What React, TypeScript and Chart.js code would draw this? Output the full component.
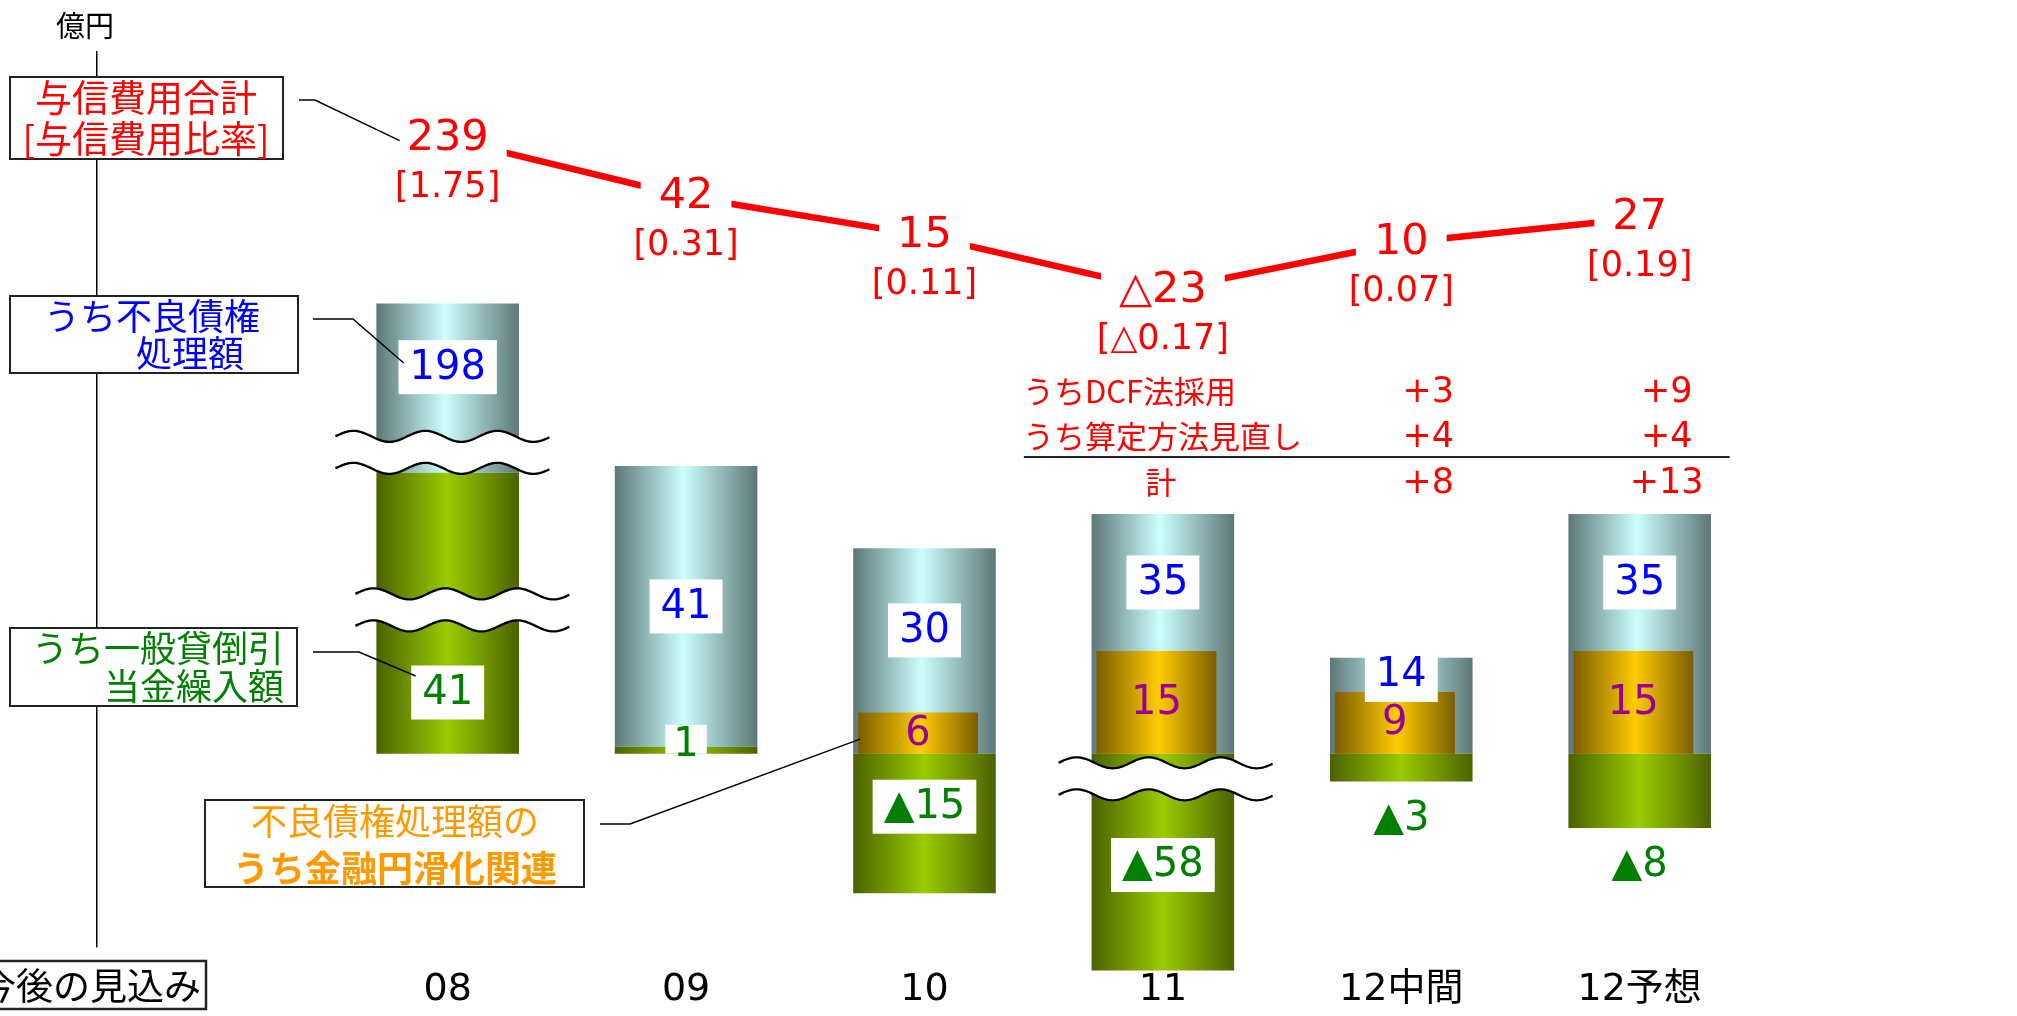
import React, { useEffect, useRef } from 'react';
import { Chart, registerables, LinearScale } from 'chart.js';

// ---------------- data ----------------
const CATEGORIES = ['08', '09', '10', '11', '12中間', '12予想'];
const TOTAL_CREDIT_COST = [239, 42, 15, -23, 10, 27]; // 与信費用合計 (億円)
const CREDIT_COST_RATIO = [1.75, 0.31, 0.11, -0.17, 0.07, 0.19]; // 与信費用比率
const NPL_DISPOSAL = [198, 41, 30, 35, 14, 35]; // うち不良債権処理額
const GENERAL_PROVISION = [41, 1, -15, -58, -3, -8]; // うち一般貸倒引当金繰入額
const FACILITATION_RELATED: (number | null)[] = [null, null, 6, 15, 9, 15]; // うち金融円滑化関連
const DCF_ADOPTION: (number | null)[] = [null, null, null, null, 3, 9]; // うちDCF法採用
const METHOD_REVIEW: (number | null)[] = [null, null, null, null, 4, 4]; // うち算定方法見直し
const REVIEW_TOTAL: (number | null)[] = [null, null, null, null, 8, 13]; // 計

// ---------------- styles ----------------
const LATIN = '"DejaVu Sans", "Noto Sans CJK JP", sans-serif';
const JP = '"Noto Sans CJK JP", "DejaVu Sans", sans-serif';
const f = (size: number, weight = 'normal', fam = LATIN) => `${weight} ${size}px ${fam}`;
const BLUE_STOPS: [number, string][] = [[0, '#5d7776'], [0.48, '#ccffff'], [1, '#5d7776']];
const GREEN_STOPS: [number, string][] = [[0, '#4a6200'], [0.5, '#99cc00'], [1, '#4a6200']];
const ORANGE_STOPS: [number, string][] = [[0, '#7c5d00'], [0.52, '#ffcc00'], [1, '#7c5d00']];
const RED = '#ff0000';
const BLUE_TXT = '#0000ff';
const GREEN_TXT = '#008000';
const PURPLE_TXT = '#990099';
const ORANGE_TXT = '#ff9900';

// decorative axis-break marks (category index, value on the bar axis, horizontal nudge)
const BREAK_MARKS = [
  { cat: 0, value: 44, dx: -5 },
  { cat: 0, value: 21, dx: 15 },
  { cat: 3, value: -2.7, dx: 3 },
];
const BREAK_GAP = 32;
const WAVE_AMP = 5.5;
const WAVE_PERIOD = 72;

// ---------------- piecewise (broken) linear scale ----------------
class BrokenScale extends LinearScale {
  static id = 'broken';
  static defaults = LinearScale.defaults;
  knotsArr(): number[] {
    return ((this.options as any).knots || []) as number[];
  }
  densArr(): number[] {
    return ((this.options as any).densities || [1]) as number[];
  }
  warp(v: number): number {
    const k = this.knotsArr();
    const d = this.densArr();
    if (!k.length) return v * d[0];
    if (v <= k[0]) return d[0] * (v - k[0]);
    let t = 0;
    for (let i = 0; i < k.length; i++) {
      const lo = k[i];
      const hi = i + 1 < k.length ? k[i + 1] : Infinity;
      const dd = d[i + 1];
      if (v <= hi) return t + dd * (v - lo);
      t += dd * (hi - lo);
    }
    return t;
  }
  unwarp(t: number): number {
    const k = this.knotsArr();
    const d = this.densArr();
    if (!k.length) return t / d[0];
    if (t <= 0) return k[0] + t / d[0];
    let acc = 0;
    for (let i = 0; i < k.length; i++) {
      const lo = k[i];
      const hi = i + 1 < k.length ? k[i + 1] : Infinity;
      const seg = d[i + 1] * (hi - lo);
      if (t <= acc + seg) return lo + (t - acc) / d[i + 1];
      acc += seg;
    }
    return k[k.length - 1];
  }
  getPixelForValue(value: any) {
    if (value === null || value === undefined || isNaN(value)) return NaN;
    const a = this.warp(this.min);
    const b = this.warp(this.max);
    return this.getPixelForDecimal((this.warp(value) - a) / (b - a));
  }
  getValueForPixel(pixel: number) {
    const a = this.warp(this.min);
    const b = this.warp(this.max);
    return this.unwarp(a + this.getDecimalForPixel(pixel) * (b - a));
  }
}

Chart.register(...registerables, BrokenScale as any);

// ---------------- drawing helpers ----------------
function text(ctx: CanvasRenderingContext2D, s: string, x: number, y: number, font: string, color: string, align: CanvasTextAlign = 'center') {
  ctx.font = font;
  ctx.fillStyle = color;
  ctx.textAlign = align;
  ctx.textBaseline = 'middle';
  ctx.fillText(s, x, y);
}

function framed(ctx: CanvasRenderingContext2D, x: number, y: number, w: number, h: number, lw = 2) {
  ctx.save();
  ctx.fillStyle = '#ffffff';
  ctx.fillRect(x, y, w, h);
  ctx.strokeStyle = '#222';
  ctx.lineWidth = lw;
  ctx.strokeRect(x, y, w, h);
  ctx.restore();
}

function leader(ctx: CanvasRenderingContext2D, pts: [number, number][]) {
  ctx.save();
  ctx.strokeStyle = '#000';
  ctx.lineWidth = 1.4;
  ctx.beginPath();
  pts.forEach(([x, y], i) => (i ? ctx.lineTo(x, y) : ctx.moveTo(x, y)));
  ctx.stroke();
  ctx.restore();
}

function valueLabel(ctx: CanvasRenderingContext2D, s: string, cx: number, cy: number, color: string, boxed: boolean) {
  ctx.font = f(40);
  const w = ctx.measureText(s).width;
  if (boxed) {
    ctx.fillStyle = '#fff';
    ctx.fillRect(cx - w / 2 - 11, cy - 27, w + 22, 54);
  }
  text(ctx, s, cx, cy + 1, f(40), color);
}

function drawBreak(ctx: CanvasRenderingContext2D, xl: number, xr: number, yc: number) {
  const wave = (x: number) => -WAVE_AMP * Math.sin((2 * Math.PI * (x - xl)) / WAVE_PERIOD);
  const up = yc - BREAK_GAP / 2;
  const lo = yc + BREAK_GAP / 2;
  ctx.save();
  ctx.beginPath();
  for (let x = xl; x <= xr; x += 2) ctx.lineTo(x, up + wave(x));
  for (let x = xr; x >= xl; x -= 2) ctx.lineTo(x, lo + wave(x));
  ctx.closePath();
  ctx.fillStyle = '#fff';
  ctx.fill();
  ctx.strokeStyle = '#000';
  ctx.lineWidth = 2.3;
  for (const base of [up, lo]) {
    ctx.beginPath();
    for (let x = xl; x <= xr; x += 2) ctx.lineTo(x, base + wave(x));
    ctx.stroke();
  }
  ctx.restore();
}

function visibleSegments(a: number, b: number, bands: [number, number][]) {
  let segs: [number, number][] = [[a, b]];
  for (const [t, u] of bands) {
    segs = segs.flatMap(([p, q]) => {
      const out: [number, number][] = [];
      if (t > p) out.push([p, Math.min(q, t)]);
      if (u < q) out.push([Math.max(p, u), q]);
      return out.filter((s) => s[1] > s[0]);
    });
  }
  let best = segs[0] || [a, b];
  segs.forEach((s) => {
    if (s[1] - s[0] > best[1] - best[0]) best = s;
  });
  return best;
}

const tri = (v: number, mark: string) => (v < 0 ? `${mark}${Math.abs(v)}` : `${v}`);

// ---------------- plugins ----------------
const gradientPlugin = {
  id: 'barGradients',
  beforeDatasetsDraw(chart: any) {
    const ctx = chart.ctx;
    chart.data.datasets.forEach((ds: any, di: number) => {
      if (!ds.gradientStops) return;
      chart.getDatasetMeta(di).data.forEach((el: any) => {
        if (!el || !el.options || !isFinite(el.x) || !isFinite(el.width)) return;
        const l = el.x - el.width / 2;
        const g = ctx.createLinearGradient(l, 0, l + el.width, 0);
        ds.gradientStops.forEach(([o, c]: [number, string]) => g.addColorStop(o, c));
        el.options.backgroundColor = g;
      });
    });
  },
};

const annotationPlugin = {
  id: 'annotations',
  afterDraw(chart: any) {
    const ctx: CanvasRenderingContext2D = chart.ctx;
    const xs = chart.scales.x;
    const ys = chart.scales.y;
    const lineEls = chart.getDatasetMeta(0).data;
    const orEls = chart.getDatasetMeta(1).data;
    const grEls = chart.getDatasetMeta(2).data;
    const blEls = chart.getDatasetMeta(3).data;

    // axis break marks
    const bands: Record<number, [number, number][]> = {};
    BREAK_MARKS.forEach((m) => {
      const el = blEls[m.cat];
      const yc = ys.getPixelForValue(m.value);
      drawBreak(ctx, el.x - el.width / 2 - 36 + m.dx, el.x + el.width / 2 + 36 + m.dx, yc);
      (bands[m.cat] = bands[m.cat] || []).push([yc - BREAK_GAP / 2 - WAVE_AMP, yc + BREAK_GAP / 2 + WAVE_AMP]);
    });

    // bar value labels
    CATEGORIES.forEach((_, i) => {
      const b = blEls[i];
      const g = grEls[i];
      const o = orEls[i];
      const bd = bands[i] || [];
      // 不良債権処理額
      const bBottom = FACILITATION_RELATED[i] != null ? o.y : b.base;
      const sb = visibleSegments(Math.min(b.y, bBottom), Math.max(b.y, bBottom), bd);
      valueLabel(ctx, `${NPL_DISPOSAL[i]}`, b.x, (sb[0] + sb[1]) / 2, BLUE_TXT, true);
      // 金融円滑化関連
      const fv = FACILITATION_RELATED[i];
      if (fv != null) valueLabel(ctx, `${fv}`, o.x, (o.y + o.base) / 2, PURPLE_TXT, false);
      // 一般貸倒引当金繰入額
      const gv = GENERAL_PROVISION[i];
      const top = Math.min(g.y, g.base);
      const bot = Math.max(g.y, g.base);
      const sg = visibleSegments(top, bot, bd);
      const len = sg[1] - sg[0];
      const label = tri(gv, '▲');
      if (len >= 100) {
        const cy = gv < 0 ? sg[0] + 0.38 * len : (sg[0] + sg[1]) / 2;
        valueLabel(ctx, label, g.x, cy, GREEN_TXT, true);
      } else if (gv < 0) {
        valueLabel(ctx, label, g.x, bot + 37, GREEN_TXT, false);
      } else {
        ctx.font = f(40);
        const w = ctx.measureText(label).width;
        ctx.fillStyle = '#fff';
        ctx.fillRect(g.x - w / 2 - 8, g.y - 22, w + 16, g.base - g.y + 22);
        text(ctx, label, g.x, g.base - 8, f(40), GREEN_TXT);
      }
    });

    // credit-cost line labels
    lineEls.forEach((p: any, i: number) => {
      const s = tri(TOTAL_CREDIT_COST[i], '△');
      ctx.font = f(43);
      const w = ctx.measureText(s).width;
      ctx.fillStyle = '#fff';
      ctx.fillRect(p.x - w / 2 - 18, p.y - 24, w + 36, 48);
      text(ctx, s, p.x, p.y, f(43), RED);
      const r = CREDIT_COST_RATIO[i];
      const rs = r < 0 ? `[△${Math.abs(r).toFixed(2)}]` : `[${r.toFixed(2)}]`;
      text(ctx, rs, p.x, p.y + 49, f(35), RED);
    });

    // DCF / method review breakdown table
    const x3 = xs.getPixelForValue(3);
    const x5 = xs.getPixelForValue(5);
    text(ctx, 'うちDCF法採用', x3 - 140, 391, f(31, 'normal', JP), RED, 'left');
    text(ctx, 'うち算定方法見直し', x3 - 140, 436, f(31, 'normal', JP), RED, 'left');
    text(ctx, '計', x3 - 2, 482, f(31, 'normal', JP), RED);
    ctx.save();
    ctx.strokeStyle = '#222';
    ctx.lineWidth = 2;
    ctx.beginPath();
    ctx.moveTo(x3 - 139, 457);
    ctx.lineTo(x5 + 90, 457);
    ctx.stroke();
    ctx.restore();
    CATEGORIES.forEach((_, i) => {
      const cx = xs.getPixelForValue(i) + 27;
      if (DCF_ADOPTION[i] != null) text(ctx, `+${DCF_ADOPTION[i]}`, cx, 393, f(35), RED);
      if (METHOD_REVIEW[i] != null) text(ctx, `+${METHOD_REVIEW[i]}`, cx, 438, f(35), RED);
      if (REVIEW_TOTAL[i] != null) text(ctx, `+${REVIEW_TOTAL[i]}`, cx, 484, f(35), RED);
    });

    // unit
    text(ctx, '億円', 85, 26, f(29, 'normal', JP), '#000');

    // legend callout boxes
    framed(ctx, 10, 77, 273, 82);
    text(ctx, '与信費用合計', 146, 98, f(37, 'normal', JP), RED);
    text(ctx, '[与信費用比率]', 146, 139, f(37, 'normal', JP), RED);
    const p0 = lineEls[0];
    leader(ctx, [[299, 100], [315, 100], [p0.x - 48, p0.y + 2]]);

    framed(ctx, 10, 296, 288, 77);
    text(ctx, 'うち不良債権', 44, 316, f(36, 'normal', JP), BLUE_TXT, 'left');
    text(ctx, '処理額', 136, 353, f(36, 'normal', JP), BLUE_TXT, 'left');
    leader(ctx, [[313, 319], [353, 319], [blEls[0].x - 44, 363]]);

    framed(ctx, 10, 628, 287, 78);
    text(ctx, 'うち一般貸倒引', 284, 648, f(36, 'normal', JP), GREEN_TXT, 'right');
    text(ctx, '当金繰入額', 284, 686, f(36, 'normal', JP), GREEN_TXT, 'right');
    leader(ctx, [[313, 652], [359, 652], [grEls[0].x - 32, 676]]);

    framed(ctx, 205, 800, 379, 87);
    text(ctx, '不良債権処理額の', 395, 821, f(36, 'normal', JP), ORANGE_TXT);
    text(ctx, 'うち金融円滑化関連', 395, 868, f(36, 'bold', JP), ORANGE_TXT);
    const o2 = orEls[2];
    leader(ctx, [[600, 824], [630, 824], [o2.x - o2.width / 2 + 2, (o2.y + o2.base) / 2 + 6]]);

    framed(ctx, -10, 961, 216, 48, 2.5);
    text(ctx, '今後の見込み', 90, 986, f(37, 'normal', JP), '#000');
  },
};

// ---------------- component ----------------
export default function App() {
  const ref = useRef<HTMLCanvasElement>(null);
  useEffect(() => {
    document.body.style.margin = '0';
    const xy = (vals: (number | null)[]) => CATEGORIES.map((_, i) => ({ x: i, y: vals[i] }));
    const setTicks = (s: any) => {
      s.ticks = CATEGORIES.map((_, i) => ({ value: i }));
    };
    const X_MIN = -1.473;
    const X_MAX = 6.482;
    const chart = new Chart(ref.current as HTMLCanvasElement, {
      type: 'bar',
      data: {
        datasets: [
          {
            type: 'line',
            label: '与信費用合計',
            data: xy(TOTAL_CREDIT_COST),
            xAxisID: 'x',
            yAxisID: 'y2',
            borderColor: RED,
            borderWidth: 6.5,
            borderCapStyle: 'butt',
            pointRadius: 0,
            fill: false,
            tension: 0,
            clip: false,
          } as any,
          {
            type: 'bar',
            label: 'うち金融円滑化関連',
            data: xy(FACILITATION_RELATED),
            xAxisID: 'x2',
            yAxisID: 'y',
            stack: 'facilitation',
            grouped: false,
            categoryPercentage: 1,
            barPercentage: 0.503,
            backgroundColor: () => '#ffcc00',
            gradientStops: ORANGE_STOPS,
            clip: false,
          } as any,
          {
            type: 'bar',
            label: 'うち一般貸倒引当金繰入額',
            data: xy(GENERAL_PROVISION),
            xAxisID: 'x',
            yAxisID: 'y',
            stack: 'main',
            grouped: false,
            categoryPercentage: 1,
            barPercentage: 0.598,
            backgroundColor: () => '#99cc00',
            gradientStops: GREEN_STOPS,
            clip: false,
          } as any,
          {
            type: 'bar',
            label: 'うち不良債権処理額',
            data: xy(NPL_DISPOSAL),
            xAxisID: 'x',
            yAxisID: 'y',
            stack: 'main',
            grouped: false,
            categoryPercentage: 1,
            barPercentage: 0.598,
            backgroundColor: () => '#ccffff',
            gradientStops: BLUE_STOPS,
            clip: false,
          } as any,
        ],
      },
      options: {
        responsive: true,
        maintainAspectRatio: false,
        animation: false,
        events: [],
        layout: { padding: { left: 96.5, right: 24, top: 51.7, bottom: 0 } },
        plugins: { legend: { display: false }, tooltip: { enabled: false } },
        scales: {
          x: {
            type: 'linear',
            position: 'bottom',
            min: X_MIN,
            max: X_MAX,
            bounds: 'data',
            offset: false,
            stacked: true,
            grid: { display: false, drawTicks: false, offset: false },
            border: { display: false },
            afterBuildTicks: setTicks,
            afterFit: (s: any) => {
              s.height = 69.3;
            },
            ticks: {
              autoSkip: false,
              maxRotation: 0,
              padding: 20.5,
              color: '#000',
              font: { family: LATIN, size: 38 },
              callback: (v: any) => CATEGORIES[v] ?? '',
            },
          },
          x2: {
            type: 'linear',
            display: false,
            min: X_MIN + 0.027,
            max: X_MAX + 0.027,
            bounds: 'data',
            offset: false,
            grid: { offset: false },
            stacked: true,
            afterBuildTicks: setTicks,
          },
          y: {
            type: 'broken',
            position: 'left',
            min: -43.3,
            max: 583,
            bounds: 'data',
            knots: [-16, 0, 45],
            densities: [1.62, 9.3, 6.85, 0.732],
            stacked: true,
            z: 1,
            grid: {
              drawTicks: false,
              lineWidth: 1.5,
              color: (c: any) => (c.tick && c.tick.value === 0 ? '#000' : 'rgba(0,0,0,0)'),
            },
            border: { display: true, color: '#000', width: 1.5 },
            ticks: { display: false, stepSize: 50 },
          } as any,
          y2: {
            type: 'broken',
            display: false,
            min: -476.3,
            max: 535,
            bounds: 'data',
            knots: [42],
            densities: [1.449, 0.294],
          } as any,
        },
      } as any,
      plugins: [gradientPlugin, annotationPlugin],
    });
    return () => chart.destroy();
  }, []);
  return (
    <div style={{ position: 'fixed', left: 0, top: 0, width: '100vw', height: '100vh', background: '#fff' }}>
      <canvas ref={ref} />
    </div>
  );
}
